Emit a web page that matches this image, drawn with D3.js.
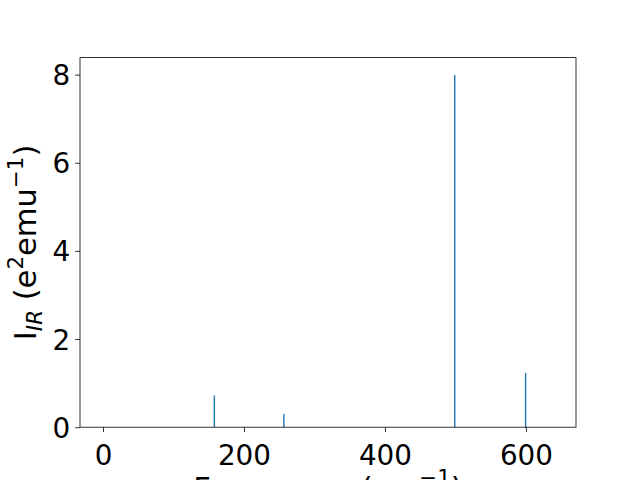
<!DOCTYPE html>
<html><head><meta charset="utf-8">
<script src="https://cdn.jsdelivr.net/npm/d3@7"></script>
<style>body{margin:0;background:#fff}svg text{font-family:"DejaVu Sans",sans-serif}</style>
</head><body>
<script>
const frequencies = [158, 256.6, 499, 599.5];
const intensities = [0.72, 0.30, 7.99, 1.23];
const barWidth = 2;
const xDomain = [-32.6, 671];
const yDomain = [0, 8.386];
const xTicks = [0, 200, 400, 600];
const yTicks = [0, 2, 4, 6, 8];

const W = 640, H = 480;
const m = {left: 80, right: 576, top: 57.6, bottom: 427.2};
const svg = d3.select("body").append("svg").attr("width", W).attr("height", H);
const x = d3.scaleLinear().domain(xDomain).range([m.left, m.right]);
const y = d3.scaleLinear().domain(yDomain).range([m.bottom, m.top]);
const fs = 27.8;
const lfs = 30.56;

svg.append("g").selectAll("rect").data(frequencies).join("rect")
  .attr("x", (d) => x(d - barWidth / 2))
  .attr("width", (d) => x(d + barWidth / 2) - x(d - barWidth / 2))
  .attr("y", (d, i) => y(intensities[i]))
  .attr("height", (d, i) => y(0) - y(intensities[i]))
  .attr("fill", "#1f77b4");

const xAxis = svg.append("g").attr("transform", `translate(0,${m.bottom})`)
  .call(d3.axisBottom(x).tickValues(xTicks).tickSize(4.86).tickPadding(5).tickFormat(d3.format("d")));
const yAxis = svg.append("g").attr("transform", `translate(${m.left},0)`)
  .call(d3.axisLeft(y).tickValues(yTicks).tickSize(4.86).tickPadding(5).tickFormat(d3.format("d")));
[xAxis, yAxis].forEach(g => {
  g.select(".domain").remove();
  g.selectAll("line").attr("stroke", "#000").attr("stroke-width", 0.8);
  g.selectAll("text").attr("font-size", fs).attr("fill", "#000").attr("font-family", "DejaVu Sans");
});
xAxis.selectAll("text").attr("dy", null).attr("y", 38);
yAxis.selectAll("text").attr("dy", null).attr("y", 10);

svg.append("rect").attr("x", m.left).attr("y", m.top)
  .attr("width", m.right - m.left).attr("height", m.bottom - m.top)
  .attr("fill", "none").attr("stroke", "#000").attr("stroke-width", 0.8);

// x label
const xl = svg.append("text").attr("x", (m.left + m.right) / 2).attr("y", 499)
  .attr("text-anchor", "middle").attr("font-size", lfs).attr("fill", "#000");
xl.append("tspan").text("Frequency (cm");
xl.append("tspan").attr("font-size", lfs * 0.7).attr("dy", -14).text("\u22121");
xl.append("tspan").attr("dy", 14).text(")");

// y label
const yl = svg.append("text").attr("transform", `translate(36,${(m.top + m.bottom) / 2}) rotate(-90)`)
  .attr("text-anchor", "middle").attr("font-size", lfs).attr("fill", "#000");
yl.append("tspan").text("I");
yl.append("tspan").attr("font-size", lfs * 0.7).attr("font-style", "italic").attr("dy", 6).text("IR");
yl.append("tspan").attr("dy", -6).text(" (e");
yl.append("tspan").attr("font-size", lfs * 0.7).attr("dy", -13).text("2");
yl.append("tspan").attr("dy", 13).text("emu");
yl.append("tspan").attr("font-size", lfs * 0.7).attr("dy", -13).text("\u22121");
yl.append("tspan").attr("dy", 13).text(")");
</script>
</body></html>
